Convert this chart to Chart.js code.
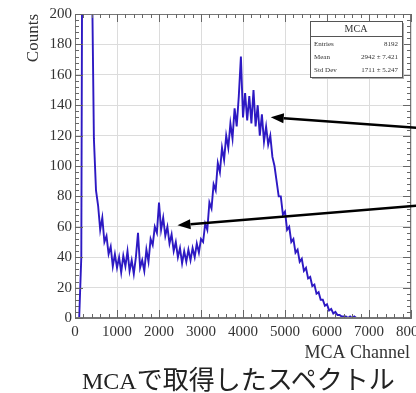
<!DOCTYPE html>
<html>
<head>
<meta charset="utf-8">
<script src="https://cdn.jsdelivr.net/npm/chart.js@4.4.1/dist/chart.umd.min.js"></script>
<style>
  html, body { margin: 0; padding: 0; background: #fff; }
  #wrap { position: relative; width: 416px; height: 393px; overflow: hidden; }
  #mca { display: block; }
  #caption {
    position: absolute; left: 82px; top: 364px; white-space: nowrap;
    line-height: 28px; color: #222;
    font-family: "Noto Sans CJK JP", sans-serif; font-size: 26px;
  }
  #caption .lat { font-family: "Liberation Serif", serif; font-size: 24px; }
</style>
</head>
<body>
<div id="wrap">
  <canvas id="mca" width="416" height="393"></canvas>
  <div id="caption"><span class="lat">MCA</span>で取得したスペクトル</div>
</div>
<script>
// histogram: 50-channel bins starting at channel 100
const binStart = 100;
const binWidth = 50;
const counts = [
  0, 40, 520, 900, 760, 480, 236, 118, 84, 74,
  58, 66, 50, 54, 42, 47, 34, 42, 33, 40,
  30, 41, 34, 44, 31, 38, 29, 40, 56, 33,
  38, 31, 45, 37, 52, 48, 60, 56, 76, 58,
  66, 54, 60, 49, 55, 44, 50, 40, 46, 36,
  44, 37, 45, 38, 46, 40, 49, 43, 52, 50,
  62, 58, 76, 72, 88, 84, 102, 96, 112, 104,
  120, 112, 128, 118, 138, 126, 146, 172, 132, 148,
  130, 146, 128, 150, 126, 140, 120, 134, 116, 126,
  114, 120, 106, 100, 90, 80, 80, 68, 70, 58,
  60, 50, 52, 43, 45, 37, 39, 31, 33, 26,
  27, 21, 22, 16, 17, 12, 12, 8, 9, 5,
  6, 3, 4, 2, 2, 1, 1, 1, 0, 1,
  0, 1, 0, 0, 0, 0, 0, 0, 0
];
const xTicks = [0, 1000, 2000, 3000, 4000, 5000, 6000, 7000, 8000];
const yTicks = [0, 20, 40, 60, 80, 100, 120, 140, 160, 180, 200];

const statTitle = 'MCA';
const statNames = ['Entries', 'Mean', 'Std Dev'];
const statValues = ['8192', '2942 \u00b1 7.421', '1711 \u00b1 5.247'];

// arrows (data coords): head -> tail beyond the frame
const arrowHeads = [[4660, 132], [2440, 61]];
const arrowTails = [[8200, 125], [8200, 74]];

const punti = counts.map((c, i) => ({ x: binStart + i * binWidth, y: c }));

const decoracoes = {
  id: 'decoracoes',
  afterDraw(chart) {
    const { ctx, chartArea: a, scales } = chart;
    const sx = scales.x, sy = scales.y;
    ctx.save();

    // frame
    ctx.strokeStyle = '#777';
    ctx.lineWidth = 1;
    ctx.strokeRect(a.left + 0.5, a.top + 0.5, a.right - a.left - 1, a.bottom - a.top - 1);

    // ticks inside frame
    ctx.strokeStyle = '#666';
    ctx.beginPath();
    for (let v = 0; v <= 8000; v += 200) {
      const px = Math.round(sx.getPixelForValue(v)) + 0.5;
      const len = v % 1000 === 0 ? 8 : 4;
      ctx.moveTo(px, a.bottom); ctx.lineTo(px, a.bottom - len);
      ctx.moveTo(px, a.top); ctx.lineTo(px, a.top + len);
    }
    for (let v = 0; v <= 200; v += 4) {
      const py = Math.round(sy.getPixelForValue(v)) + 0.5;
      const len = v % 20 === 0 ? 8 : 4;
      ctx.moveTo(a.left, py); ctx.lineTo(a.left + len, py);
      ctx.moveTo(a.right, py); ctx.lineTo(a.right - len, py);
    }
    ctx.stroke();

    // axis titles
    ctx.fillStyle = '#333';
    ctx.font = '17px "Liberation Serif"';
    ctx.textBaseline = 'middle';
    ctx.save();
    ctx.translate(34, a.top);
    ctx.rotate(-Math.PI / 2);
    ctx.textAlign = 'right';
    ctx.fillText('Counts', 0, 0);
    ctx.restore();
    ctx.font = '18px "Liberation Serif"';
    ctx.textAlign = 'right';
    ctx.fillText('MCA Channel', a.right - 1, 353);

    // stats box
    const bx = a.right - 101, by = a.top + 7, bw = 92, bh = 56;
    ctx.fillStyle = '#aaa';
    ctx.fillRect(bx + 2, by + 2, bw, bh);
    ctx.fillStyle = '#fff';
    ctx.fillRect(bx, by, bw, bh);
    ctx.strokeStyle = '#555';
    ctx.strokeRect(bx + 0.5, by + 0.5, bw, bh);
    ctx.beginPath();
    ctx.moveTo(bx, by + 15.5); ctx.lineTo(bx + bw, by + 15.5);
    ctx.stroke();
    ctx.fillStyle = '#333';
    ctx.font = '10px "Liberation Serif"';
    ctx.textAlign = 'center';
    ctx.fillText(statTitle, bx + bw / 2, by + 8);
    ctx.font = '7px "Liberation Serif"';
    statNames.forEach((n, i) => {
      const ty = by + 23 + i * 13;
      ctx.textAlign = 'left';
      ctx.fillText(n, bx + 4, ty);
      ctx.textAlign = 'right';
      ctx.fillText(statValues[i], bx + bw - 4, ty);
    });

    // arrows
    ctx.strokeStyle = '#000';
    ctx.fillStyle = '#000';
    ctx.lineWidth = 2.5;
    arrowHeads.forEach((h, i) => {
      const hx = sx.getPixelForValue(h[0]), hy = sy.getPixelForValue(h[1]);
      const tx = sx.getPixelForValue(arrowTails[i][0]), ty = sy.getPixelForValue(arrowTails[i][1]);
      const ang = Math.atan2(hy - ty, hx - tx);
      const L = 13, W = 5;
      const bxp = hx - L * Math.cos(ang), byp = hy - L * Math.sin(ang);
      ctx.beginPath();
      ctx.moveTo(tx, ty); ctx.lineTo(bxp, byp);
      ctx.stroke();
      ctx.beginPath();
      ctx.moveTo(hx, hy);
      ctx.lineTo(bxp + W * Math.sin(ang), byp - W * Math.cos(ang));
      ctx.lineTo(bxp - W * Math.sin(ang), byp + W * Math.cos(ang));
      ctx.closePath();
      ctx.fill();
    });

    ctx.restore();
  }
};

const fonteTicks = { family: 'Liberation Serif', size: 15 };

new Chart(document.getElementById('mca'), {
  type: 'line',
  data: {
    datasets: [{
      data: punti,
      borderColor: 'rgb(45, 25, 195)',
      borderWidth: 1.9,
      pointRadius: 0,
      tension: 0,
      fill: false
    }]
  },
  options: {
    responsive: false,
    animation: false,
    events: [],
    layout: { autoPadding: false, padding: { left: 0, right: 5, top: 14, bottom: 0 } },
    plugins: { legend: { display: false }, tooltip: { enabled: false } },
    scales: {
      x: {
        type: 'linear', min: 0, max: 8000,
        afterBuildTicks: s => { s.ticks = xTicks.map(v => ({ value: v })); },
        afterFit: s => { s.height = 75; s.paddingLeft = 0; s.paddingRight = 0; },
        ticks: { font: fonteTicks, color: '#333', padding: 5, maxRotation: 0, autoSkip: false, callback: v => String(v) },
        grid: { color: '#dcdcdc', drawTicks: false },
        border: { color: '#777' }
      },
      y: {
        min: 0, max: 200,
        afterBuildTicks: s => { s.ticks = yTicks.map(v => ({ value: v })); },
        afterFit: s => { s.width = 75; s.paddingTop = 0; s.paddingBottom = 0; },
        ticks: { font: fonteTicks, color: '#333', padding: 3, callback: v => String(v) },
        grid: { color: '#dcdcdc', drawTicks: false },
        border: { color: '#777' }
      }
    }
  },
  plugins: [decoracoes]
});
</script>
</body>
</html>
